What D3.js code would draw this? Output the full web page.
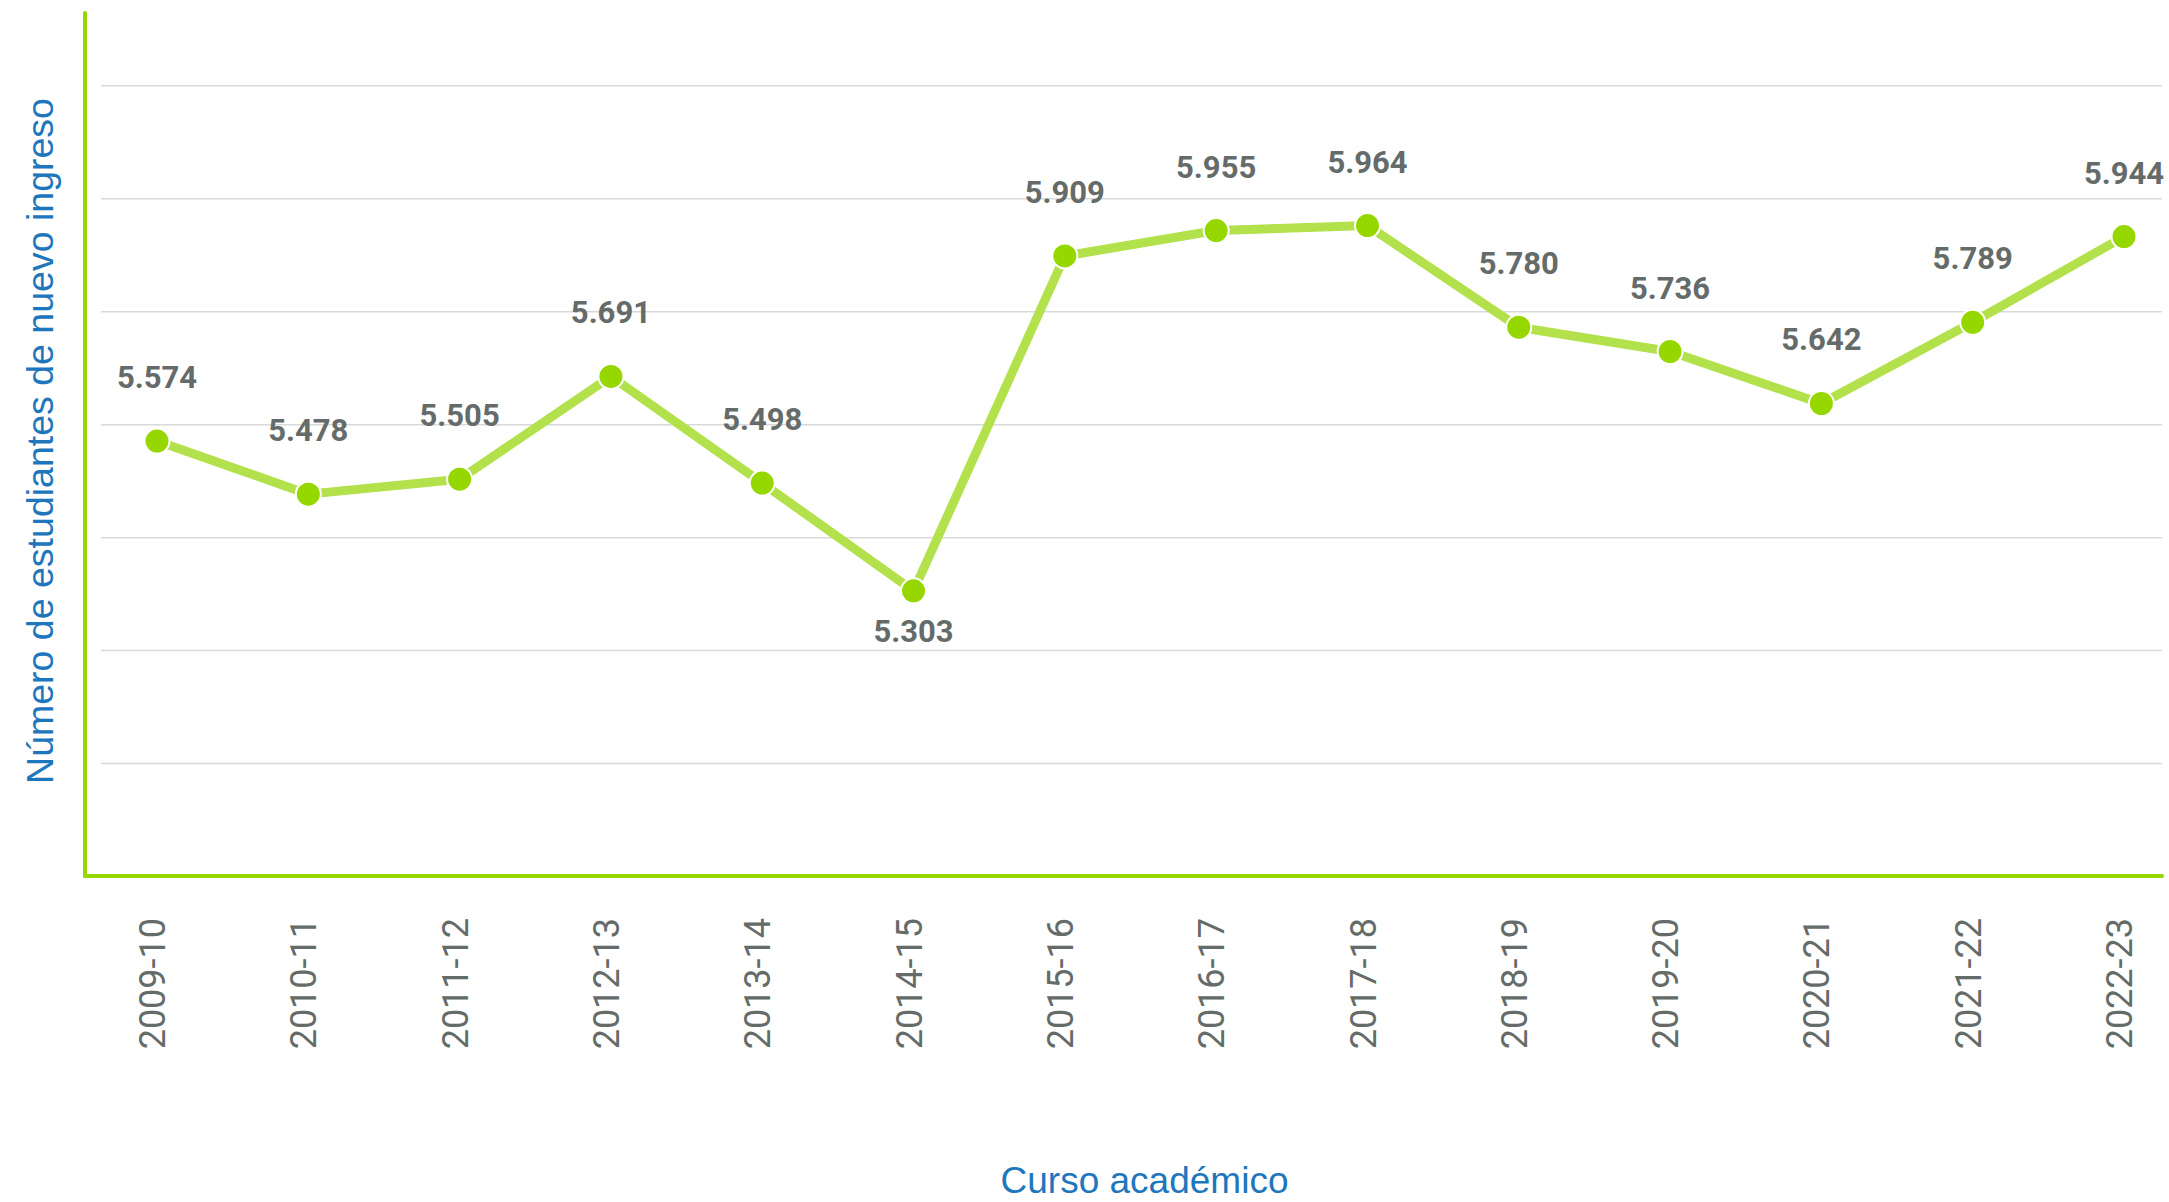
<!DOCTYPE html>
<html>
<head>
<meta charset="utf-8">
<script src="https://cdn.jsdelivr.net/npm/d3@7"></script>
<style>
  body { margin: 0; background: #fff; }
  .grid line { stroke: #d9d9d9; stroke-width: 1.5; }
  .grid path { display: none; }
</style>
</head>
<body>
<div id="my_dataviz"></div>
<script>
// data
let courses = ["2009-10", "2010-11", "2011-12", "2012-13", "2013-14", "2014-15", "2015-16",
  "2016-17", "2017-18", "2018-19", "2019-20", "2020-21", "2021-22", "2022-23"];
let students = [5574, 5478, 5505, 5691, 5498, 5303, 5909, 5955, 5964, 5780, 5736, 5642, 5789, 5944];
// which value labels sit under their point
let labelsBelow = ["2014-15"];

let yTitle = "Número de estudiantes de nuevo ingreso";
let xTitle = "Curso académico";

// set the dimensions and margins of the graph
let margin = { top: 13, right: 7, bottom: 326, left: 85 },
  width = 2169 - margin.left - margin.right,
  height = 1202 - margin.top - margin.bottom;

let green = "#97d700",
  lineGreen = "#b3e14c",
  blue = "#1e76bd",
  grey = "#646b69";

let svg = d3
  .select("#my_dataviz")
  .append("svg")
  .attr("width", width + margin.left + margin.right)
  .attr("height", height + margin.top + margin.bottom)
  .append("g")
  .attr("transform", "translate(" + margin.left + "," + margin.top + ")");

// spanish number format: 5.574
let fmt = d3.formatLocale({ decimal: ",", thousands: ".", grouping: [3], currency: ["", "€"] }).format(",d");

let x = d3.scalePoint().domain(courses).range([72, width - 38]);

// the y axis has no labels, 7 gridlines evenly spaced
let yMin = 4787,
  gridStep = 204.4;
let y = d3.scaleLinear().domain([yMin, yMin + gridStep * 7.64]).range([height, 0]);
let gridValues = d3.range(1, 8).map(function (i) { return yMin + i * gridStep; });

// gridlines
svg
  .append("g")
  .attr("class", "grid")
  .attr("transform", "translate(16,0)")
  .call(d3.axisLeft(y).tickValues(gridValues).tickSize(-(width - 16)).tickFormat(""));

// axis lines
svg.append("line")
  .attr("x1", 0).attr("x2", 0).attr("y1", 0).attr("y2", height)
  .attr("stroke", green).attr("stroke-width", 4).attr("stroke-linecap", "round");
svg.append("line")
  .attr("x1", 0).attr("x2", width).attr("y1", height).attr("y2", height)
  .attr("stroke", green).attr("stroke-width", 4).attr("stroke-linecap", "round");

// x axis labels, rotated
let xAxis = svg
  .append("g")
  .attr("transform", "translate(0," + height + ")")
  .call(d3.axisBottom(x).tickSize(0));
xAxis.select(".domain").remove();
xAxis
  .selectAll("text")
  .attr("transform", "rotate(-90)")
  .attr("x", -42)
  .attr("y", -5)
  .attr("dy", "0.35em")
  .style("text-anchor", "end")
  .style("font-family", "Roboto, 'Liberation Sans', sans-serif")
  .style("font-size", "36px")
  .attr("fill", grey);

let data = courses.map(function (c, i) { return { course: c, value: students[i] }; });

// the line
svg
  .append("path")
  .datum(data)
  .attr("fill", "none")
  .attr("stroke", lineGreen)
  .attr("stroke-width", 9)
  .attr("stroke-linejoin", "round")
  .attr("d", d3.line()
    .x(function (d) { return x(d.course); })
    .y(function (d) { return y(d.value); }));

// points
svg
  .selectAll("circle")
  .data(data)
  .enter()
  .append("circle")
  .attr("cx", function (d) { return x(d.course); })
  .attr("cy", function (d) { return y(d.value); })
  .attr("r", 12.5)
  .attr("fill", green)
  .attr("stroke", "#fff")
  .attr("stroke-width", 2);

// value labels
svg
  .selectAll(".value")
  .data(data)
  .enter()
  .append("text")
  .attr("class", "value")
  .attr("x", function (d) { return x(d.course); })
  .attr("y", function (d) {
    return labelsBelow.indexOf(d.course) >= 0 ? y(d.value) + 51 : y(d.value) - 53;
  })
  .style("text-anchor", "middle")
  .style("font-family", "Roboto, sans-serif")
  .style("font-weight", "700")
  .style("font-size", "31px")
  .attr("fill", grey)
  .text(function (d) { return fmt(d.value); });

// y axis title
svg
  .append("text")
  .attr("transform", "translate(" + (53 - margin.left) + "," + (441 - margin.top) + ") rotate(-90)")
  .style("text-anchor", "middle")
  .style("font-family", "'Liberation Sans', Arial, sans-serif")
  .style("font-size", "37.5px")
  .attr("fill", blue)
  .text(yTitle);

// x axis title
svg
  .append("text")
  .attr("x", width / 2 + 21)
  .attr("y", height + 317)
  .style("text-anchor", "middle")
  .style("font-family", "'Liberation Sans', Arial, sans-serif")
  .style("font-size", "37px")
  .attr("fill", blue)
  .text(xTitle);
</script>
</body>
</html>
